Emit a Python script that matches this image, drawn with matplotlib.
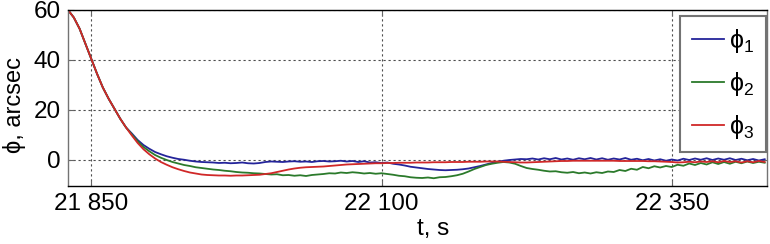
import numpy as np
import matplotlib
matplotlib.use('Agg')
import matplotlib.pyplot as plt

plt.rcParams['font.family'] = ['Liberation Sans', 'DejaVu Sans']
plt.rcParams['mathtext.default'] = 'regular'

# sampling grid, s
t = np.arange(21830, 22431, 5)

phi1 = [60, 57, 52.5, 46.5, 40.5, 34.5, 29, 24.5, 20.5, 16.5,
        13, 10.6, 8.0, 6.0, 4.5, 3.2, 2.3, 1.5, 0.9, 0.4,
        0.1, -0.3, -0.6, -0.8, -0.9, -1.0, -1.2, -1.1, -1.3, -1.2,
        -1.0, -1.3, -1.4, -1.2, -0.8, -0.6, -0.7, -0.8, -0.6, -0.5,
        -0.7, -0.6, -0.8, -0.5, -0.4, -0.6, -0.5, -0.3, -0.6, -0.4,
        -0.8, -0.5, -1.0, -0.9, -1.2, -1.0, -1.5, -1.8, -2.2, -2.7,
        -3.0, -3.3, -3.6, -3.8, -4.0, -4.1, -4.0, -3.9, -3.7, -3.4,
        -2.9, -2.4, -1.8, -1.2, -0.7, -0.3, 0.0, 0.2, 0.4, 0.3,
        0.6, 0.2, 0.7, 0.3, 0.8, 0.2, 0.6, 0.1, 0.7, 0.3,
        0.8, 0.2, 0.7, 0.1, 0.6, 0.2, 0.8, 0.1, 0.5, -0.1,
        0.4, -0.2, 0.3, -0.3, 0.2, -0.2, 0.5, 0.0, 0.6, 0.1,
        0.7, 0.0, 0.6, 0.1, 0.7, 0.0, 0.5, -0.1, 0.4, -0.2, 0.3]

phi2 = [60, 57, 52.5, 46.5, 40.5, 34.5, 29, 24.5, 20.5, 16.5,
        13, 10.2, 7.5, 5.2, 3.5, 2.0, 0.9, 0.0, -0.8, -1.4,
        -2.0, -2.4, -2.9, -3.2, -3.5, -3.8, -4.0, -4.3, -4.5, -4.8,
        -5.0, -5.1, -5.3, -5.4, -5.6, -5.8, -5.7, -6.1, -6.0, -6.3,
        -6.1, -6.4, -6.0, -5.8, -5.6, -5.3, -5.4, -5.0, -5.2, -4.9,
        -5.1, -5.4, -5.2, -5.5, -5.3, -5.6, -5.9, -6.3, -6.5, -6.9,
        -7.1, -7.2, -7.0, -7.3, -6.9, -6.8, -6.5, -6.1, -5.5, -4.6,
        -3.6, -2.8, -2.0, -1.5, -1.1, -0.8, -1.0, -1.5, -2.4, -3.2,
        -3.6, -3.9, -4.3, -4.6, -4.5, -4.9, -5.1, -4.8, -5.3, -5.0,
        -5.4, -4.9, -5.2, -4.6, -4.8, -4.0, -4.4, -3.5, -3.9, -2.8,
        -3.3, -2.5, -3.0, -2.4, -2.8, -1.9, -2.3, -1.4, -2.0, -1.2,
        -1.8, -0.9, -1.6, -0.8, -1.5, -0.7, -1.3, -0.6, -1.2, -0.7, -1.1]

phi3 = [60, 57, 52.5, 46.5, 40.5, 34.5, 29, 24.5, 20.5, 16.5,
        13, 9.8, 6.8, 4.3, 2.3, 0.6, -0.8, -1.9, -2.9, -3.7,
        -4.4, -5.0, -5.4, -5.8, -6.0, -6.1, -6.2, -6.2, -6.3, -6.2,
        -6.2, -6.1, -6.0, -5.9, -5.6, -5.3, -4.8, -4.3, -3.8, -3.4,
        -3.1, -2.9, -2.8, -2.7, -2.6, -2.4, -2.2, -2.0, -1.8, -1.7,
        -1.6, -1.5, -1.4, -1.3, -1.3, -1.2, -1.2, -1.1, -1.1, -1.1,
        -1.0, -1.0, -1.0, -0.9, -0.9, -0.9, -0.8, -0.8, -0.8, -0.7,
        -0.7, -0.7, -0.6, -0.6, -0.6, -0.7, -0.8, -0.9, -1.0, -1.0,
        -0.9, -0.8, -0.7, -0.6, -0.5, -0.4, -0.4, -0.3, -0.3, -0.3,
        -0.3, -0.3, -0.3, -0.3, -0.3, -0.4, -0.4, -0.4, -0.4, -0.4,
        -0.5, -0.5, -0.6, -0.7, -0.8, -1.0, -0.9, -0.7, -0.9, -0.6,
        -0.8, -0.5, -0.9, -0.4, -0.8, -0.5, -1.0, -0.5, -0.9, -0.4, -0.8]

labels = ['ϕ$_1$', 'ϕ$_2$', 'ϕ$_3$']
colors = ['#24249a', '#2b7a2b', '#d02828']

xticks = [21850, 22100, 22350]
xticklabels = ['21 850', '22 100', '22 350']
yticks = [0, 20, 40, 60]

fig = plt.figure(figsize=(7.7, 2.44), dpi=100)
ax = fig.add_axes([68/770, 1 - 186/244, 699/770, 176/244])

for y, c, lab in zip([phi1, phi2, phi3], colors, labels):
    ax.plot(t, y, color=c, lw=1.3, label=lab)

ax.set_xlim(21830, 22432)
ax.set_ylim(-10.4, 60)
ax.set_xticks(xticks)
ax.set_xticklabels(xticklabels)
ax.set_yticks(yticks)
ax.tick_params(direction='in', length=4, labelsize=17.5, top=True, right=True,
               color='0.4', pad=5)
ax.grid(True, color='0.3', linestyle=(0, (2, 2.5)), lw=0.8)
for s in ax.spines.values():
    s.set_linewidth(1.0)
ax.spines['left'].set_color('0.45')
ax.spines['right'].set_color('0.45')

ax.set_xlabel('t, s', fontsize=17.5, va='center')
ax.xaxis.set_label_coords(0.522, -0.245)
ax.set_ylabel('ϕ, arcsec', fontsize=17, va='center')
ax.yaxis.set_label_coords(-0.077, 0.46)

leg = ax.legend(loc='upper right', bbox_to_anchor=(0.998, 0.966), fontsize=18,
                handlelength=1.3, handletextpad=0.2, labelspacing=0.6,
                borderpad=0.45, borderaxespad=0, fancybox=False, framealpha=1)
leg.get_frame().set_edgecolor('0.45')
leg.get_frame().set_linewidth(1.5)

fig.savefig('out.png', dpi=100)
